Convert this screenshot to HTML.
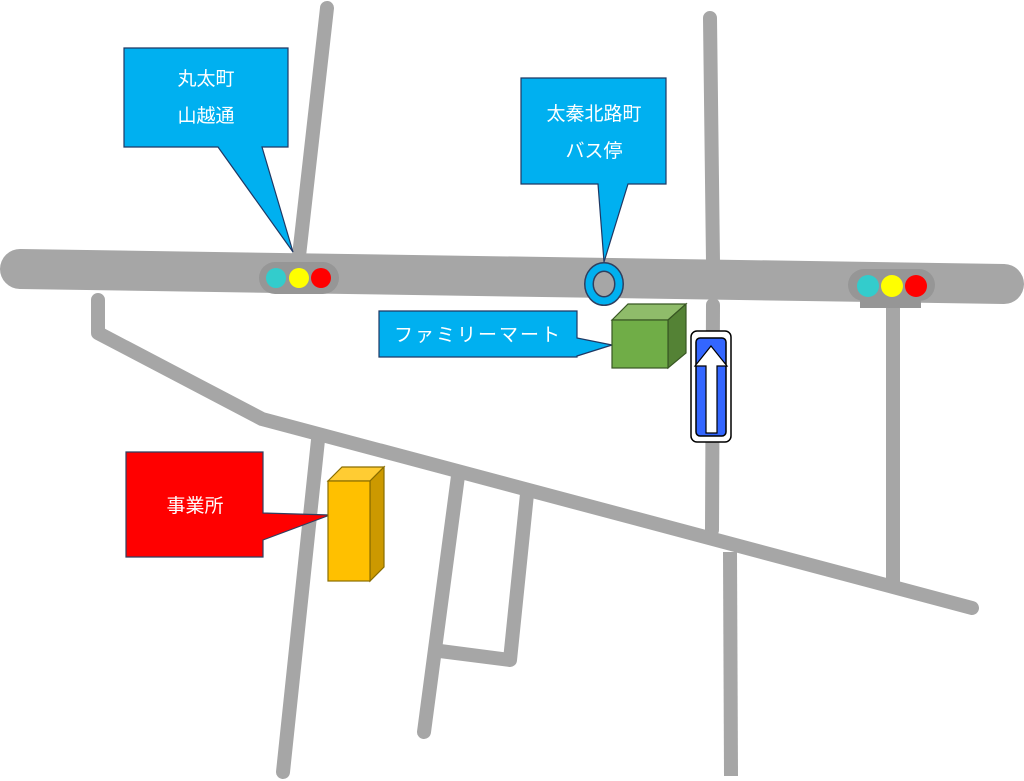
<!DOCTYPE html>
<html><head><meta charset="utf-8"><style>
html,body{margin:0;padding:0;background:#fff;}
svg{display:block;}
text{font-family:"Liberation Sans","Noto Sans CJK JP",sans-serif;fill:#fff;}
</style></head><body>
<svg width="1024" height="781" viewBox="0 0 1024 781" xmlns="http://www.w3.org/2000/svg">
<g stroke="#a6a6a6" stroke-width="14" fill="none" stroke-linejoin="round">
<line x1="327" y1="8" x2="299" y2="256" stroke-linecap="round"/>
<line x1="710" y1="18" x2="713" y2="262" stroke-linecap="round"/>
<line x1="713" y1="305" x2="712" y2="530" stroke-linecap="round"/>
<line x1="730" y1="552" x2="731" y2="776"/>
<line x1="893" y1="300" x2="893" y2="584"/>
<polyline points="98,300 98,333 262,419 972,608" stroke-linecap="round"/>
<line x1="318" y1="440" x2="283" y2="772" stroke-linecap="round"/>
<line x1="458" y1="476" x2="424" y2="732" stroke-linecap="round"/>
<polyline points="527,494 510,660 440,651"/>
</g>
<line x1="20" y1="269" x2="1004" y2="284" stroke="#a6a6a6" stroke-width="40" stroke-linecap="round"/>
<!-- traffic lights -->
<rect x="259" y="262" width="80" height="32" rx="16" fill="#969696"/>
<circle cx="276" cy="278" r="10" fill="#33cccc"/><circle cx="299" cy="278" r="10" fill="#ffff00"/><circle cx="321" cy="278" r="10" fill="#ff0000"/>
<rect x="860" y="290" width="61" height="18" fill="#969696"/>
<rect x="848" y="269" width="87" height="32" rx="16" fill="#969696"/>
<circle cx="868" cy="286" r="11" fill="#33cccc"/><circle cx="892" cy="286" r="11" fill="#ffff00"/><circle cx="916" cy="286" r="11" fill="#ff0000"/>
<!-- bus stop -->
<ellipse cx="604" cy="284" rx="15" ry="17" fill="none" stroke="#2f3f5f" stroke-width="10"/>
<ellipse cx="604" cy="284" rx="15" ry="17" fill="none" stroke="#00b0f0" stroke-width="7"/>
<!-- callouts -->
<path d="M124,48 H288 V147 H262 L293,252 L218,147 H124 Z" fill="#00b0f0" stroke="#1f3864" stroke-width="1.2"/>
<text x="206" y="85" font-size="19" text-anchor="middle">丸太町</text>
<text x="206" y="122" font-size="19" text-anchor="middle">山越通</text>
<path d="M521,78 H666 V184 H628 L604,262 L598,184 H521 Z" fill="#00b0f0" stroke="#1f3864" stroke-width="1.2"/>
<text x="594" y="120" font-size="19" text-anchor="middle">太秦北路町</text>
<text x="594" y="157" font-size="19" text-anchor="middle">バス停</text>
<path d="M379,311 H577 V338 L612,345 L577,356 V357 H379 Z" fill="#00b0f0" stroke="#1f3864" stroke-width="1.2"/>
<text x="478" y="341" font-size="19" text-anchor="middle" letter-spacing="2">ファミリーマート</text>
<path d="M126,452 H263 V513 L330,515 L263,540 V557 H126 Z" fill="#ff0000" stroke="#2f3f5f" stroke-width="1.2"/>
<text x="195" y="512" font-size="19" text-anchor="middle">事業所</text>
<!-- green cube -->
<polygon points="612,320 628,304 686,304 668,320" fill="#8fbc6a" stroke="#385723" stroke-width="1.2"/>
<polygon points="668,320 686,304 686,353 668,368" fill="#548235" stroke="#385723" stroke-width="1.2"/>
<rect x="612" y="320" width="56" height="48" fill="#70ad47" stroke="#385723" stroke-width="1.2"/>
<!-- yellow building -->
<polygon points="328,481 342,467 384,467 370,481" fill="#ffcc33" stroke="#8a6d00" stroke-width="1.2"/>
<polygon points="370,481 384,467 384,567 370,581" fill="#cc9900" stroke="#8a6d00" stroke-width="1.2"/>
<rect x="328" y="481" width="42" height="100" fill="#ffc000" stroke="#8a6d00" stroke-width="1.2"/>
<!-- one-way sign -->
<rect x="691" y="331" width="40" height="111" rx="6" fill="#fff" stroke="#000" stroke-width="1.5"/>
<rect x="696" y="338" width="30" height="98" rx="4" fill="#3366ff" stroke="#000" stroke-width="1.5"/>
<polygon points="711,346 727,366 717,366 717,433 706,433 706,366 695,366" fill="#fff" stroke="#000" stroke-width="1.2"/>
</svg>
</body></html>
